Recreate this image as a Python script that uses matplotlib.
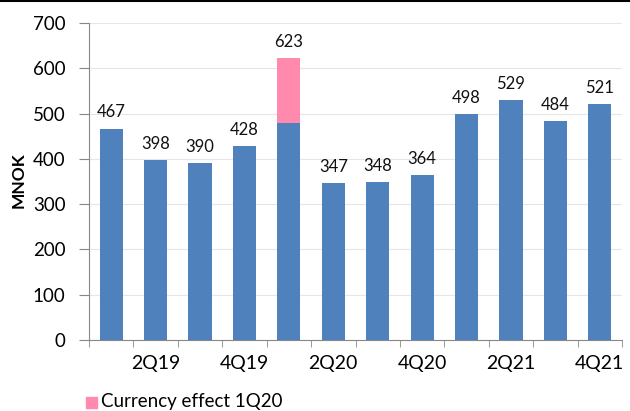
import matplotlib
matplotlib.use("Agg")
import matplotlib.pyplot as plt
from matplotlib.lines import Line2D
from matplotlib.patches import Rectangle
import numpy as np

categories = ["1Q19", "2Q19", "3Q19", "4Q19", "1Q20", "2Q20", "3Q20", "4Q20",
              "1Q21", "2Q21", "3Q21", "4Q21"]
base_values = [467, 398, 390, 428, 480, 347, 348, 364, 498, 529, 484, 521]
currency_effect = [0, 0, 0, 0, 143, 0, 0, 0, 0, 0, 0, 0]
labels = [467, 398, 390, 428, 623, 347, 348, 364, 498, 529, 484, 521]
shown_ticks = ["", "2Q19", "", "4Q19", "", "2Q20", "", "4Q20", "", "2Q21", "", "4Q21"]

blue = "#4F81BD"
pink = "#FF8AAD"
font = "Lato"
plt.rcParams['font.family'] = [font, 'DejaVu Sans']

fig = plt.figure(figsize=(6.3, 4.11), dpi=100)
ax = fig.add_axes([89/630, 1-340/411, (622-89)/630, (340-23)/411])

x = np.arange(len(categories))
ax.bar(x, base_values, width=0.52, color=blue, zorder=3)
ax.bar(x, currency_effect, bottom=base_values, width=0.52, color=pink, zorder=3)
for xi, lab, b, c in zip(x, labels, base_values, currency_effect):
    ax.text(xi, b + c + 18, str(lab), ha='center', va='bottom', fontsize=12, color='#111111')

ax.set_xlim(-0.5, len(categories) - 0.5)
ax.set_ylim(0, 700)
ax.set_yticks(range(0, 701, 100))
ax.tick_params(axis='y', labelsize=13.5, length=7, color='#888888', pad=10)
ax.set_xticks(x)
ax.set_xticklabels(shown_ticks, fontsize=14)
ax.tick_params(axis='x', length=0, pad=11)
ax.set_xticks(np.arange(-0.5, len(categories)), minor=True)
ax.tick_params(axis='x', which='minor', length=5, color='#888888')
ax.grid(axis='y', color='#e6e6e6', linewidth=0.8, zorder=0)
for s in ['top', 'right']:
    ax.spines[s].set_visible(False)
for s in ['left', 'bottom']:
    ax.spines[s].set_color('#888888')
ax.set_ylabel("MNOK", fontsize=12.5, fontweight='bold')
ax.yaxis.set_label_coords(-(89-27)/(622-89), (340-180)/(340-23))

fig.add_artist(Line2D([0, 1], [1-1.5/411, 1-1.5/411], color='black', linewidth=1.5))
fig.add_artist(Rectangle((86/630, 1-408/411), 11/630, 11/411, color=pink, transform=fig.transFigure))
fig.text(101/630, 1-401/411, "Currency effect 1Q20", fontsize=13.5, va='center', ha='left')

fig.savefig("out.png", dpi=100)
